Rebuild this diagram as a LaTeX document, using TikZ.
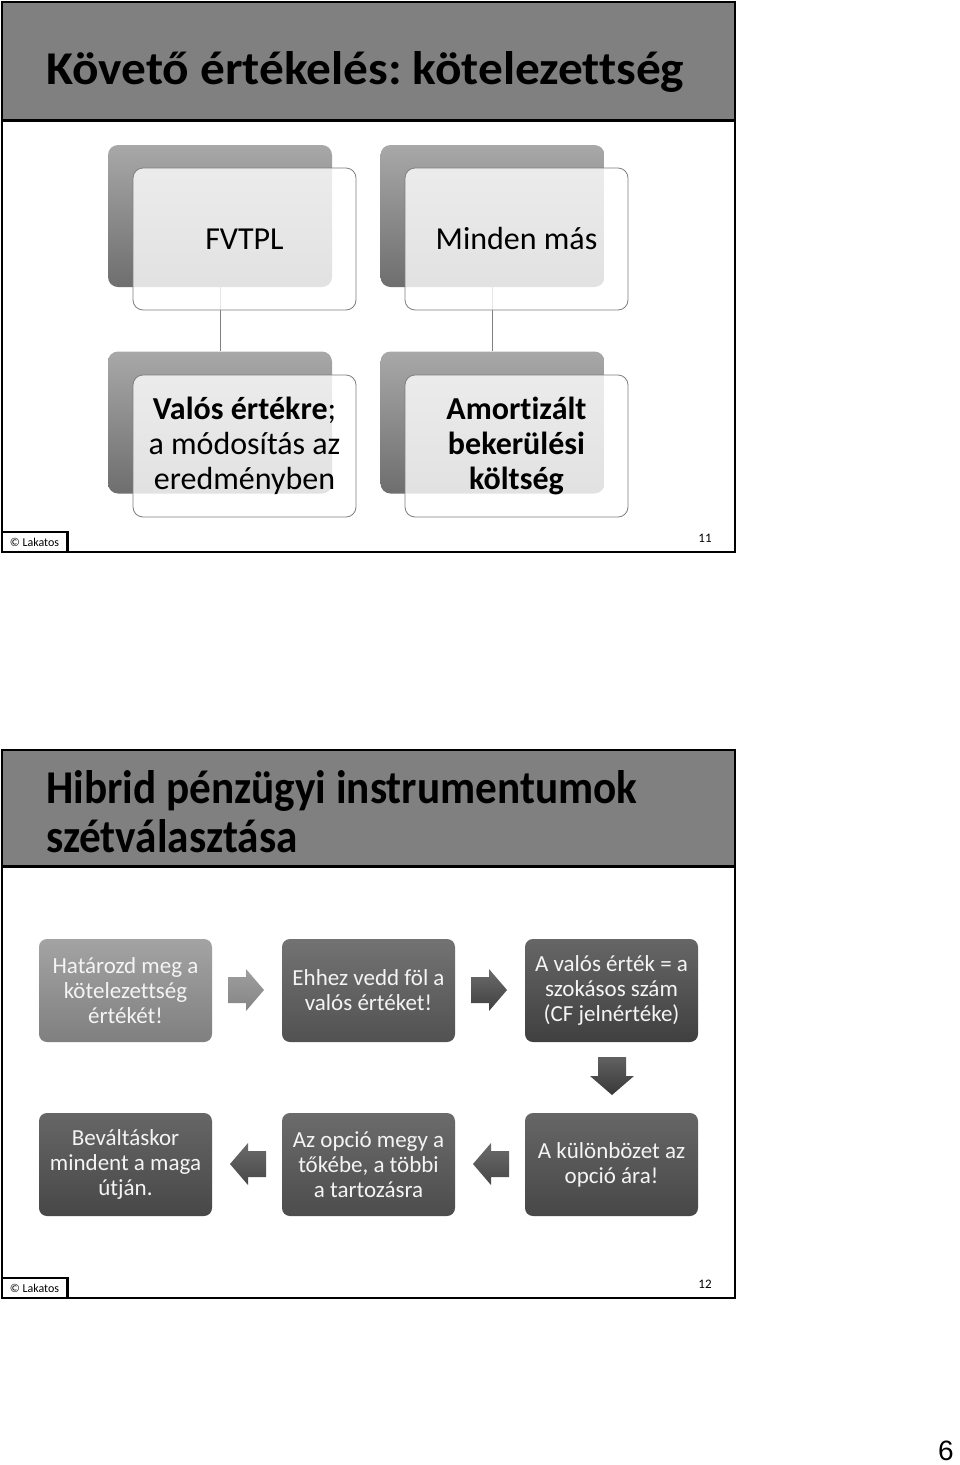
\documentclass[tikz,border=0pt]{standalone}
\usepackage{fontspec}
\setmainfont{Carlito}[Ligatures=NoCommon]
\newfontfamily\arialf{Liberation Sans}
\frenchspacing
\definecolor{titlegray}{HTML}{808080}
\definecolor{bbtop}{HTML}{A8A8A8}
\definecolor{bbbot}{HTML}{6E6E6E}
\definecolor{fbline}{HTML}{7F7F7F}
\definecolor{boxtext}{HTML}{F4F4F4}
\newcommand{\myRArrow}[4]{\shade[top color=#3,bottom color=#4] (#1-18,#2-13) -- (#1,#2-13) -- (#1,#2-21) -- (#1+18,#2) -- (#1,#2+21) -- (#1,#2+13) -- (#1-18,#2+13) -- cycle;}
\newcommand{\myLArrow}[4]{\shade[top color=#3,bottom color=#4] (#1+18,#2-13) -- (#1,#2-13) -- (#1,#2-21) -- (#1-18,#2) -- (#1,#2+21) -- (#1,#2+13) -- (#1+18,#2+13) -- cycle;}
\newcommand{\myDArrow}[4]{\shade[top color=#3,bottom color=#4] (#1-14,#2-19) -- (#1+14,#2-19) -- (#1+14,#2) -- (#1+22,#2) -- (#1,#2+19) -- (#1-22,#2) -- (#1-14,#2) -- cycle;}
\begin{document}
\frenchspacing
\begin{tikzpicture}[x=1pt,y=-1pt,
  frame/.style={draw=black,line width=2pt},
  titlebar/.style={fill=titlegray,draw=black,line width=2pt},
  titletext/.style={font=\fontsize{47}{50}\selectfont\bfseries,anchor=base west,inner sep=0pt,align=left},
  backbox/.style={top color=bbtop,bottom color=bbbot,rounded corners=10pt,minimum width=224pt,minimum height=142pt,inner sep=0pt},
  frontbox/.style={fill=white,fill opacity=0.8,text opacity=1,draw=fbline,draw opacity=1,line width=0.8pt,rounded corners=10pt,minimum width=223pt,minimum height=142pt,inner sep=0pt,align=center,font=\fontsize{32}{35}\selectfont},
  link/.style={draw=fbline,line width=0.8pt},
  stepbox/.style={rounded corners=8pt,minimum width=173pt,minimum height=103pt,inner sep=0pt,align=center,text=boxtext,font=\fontsize{23}{25}\selectfont},
  footbox/.style={draw=black,line width=1.6pt,fill=white,minimum width=65pt,minimum height=19pt,inner sep=0pt,font=\fontsize{12}{13}\selectfont},
  pagenum/.style={font=\fontsize{13}{14}\selectfont,inner sep=0pt}]
\useasboundingbox (0,0) rectangle (960,1465);
\fill[white] (0,0) rectangle (960,1465);

% ---------- slide 11 ----------
\draw[frame] (2,2) rectangle (735,552);
\draw[titlebar] (2,2) rectangle (735,120);
\draw[black,line width=3pt] (2,120) -- (735,120);
\node[titletext] (t1) at (46,84) {\scalebox{1.05}[1]{Követő értékelés: kötelezettség}};

\node[backbox] (b1) at (220,216) {};
\node[backbox] (b2) at (492.5,216) {};
\node[backbox] (b3) at (220,422.5) {};
\node[backbox] (b4) at (492.5,422.5) {};
\draw[link] (b1.south) -- (b3.north);
\draw[link] (b2.south) -- (b4.north);
\node[frontbox] (f1) at (244.5,239) {FVTPL};
\node[frontbox] (f2) at (516.5,239) {Minden más};
\node[frontbox] (f3) at (244.5,446) {\textbf{Valós értékre};\\a módosítás az\\eredményben};
\node[frontbox] (f4) at (516.5,446) {\textbf{Amortizált}\\\textbf{bekerülési}\\\textbf{költség}};

\node[footbox] (c1) at (34.5,542) {© Lakatos};
\draw[black,line width=2.4pt] (c1.north west) -- (c1.north east) -- (c1.south east);
\node[pagenum] (p1) at (705,538) {11};

% ---------- slide 12 ----------
\draw[frame] (2,750) rectangle (735,1298);
\draw[titlebar] (2,750) rectangle (735,866);
\draw[black,line width=3pt] (2,866) -- (735,866);
\node[titletext] (t2) at (46,803) {\scalebox{0.92}[1]{Hibrid pénzügyi instrumentumok}};
\node[titletext] (t3) at (46,852) {\scalebox{0.92}[1]{szétválasztása}};

\node[stepbox,top color=black!36,bottom color=black!50] (s1) at (125.5,990.5) {Határozd meg a\\kötelezettség\\értékét!};
\node[stepbox,top color=black!55,bottom color=black!68] (s2) at (368.5,990.5) {Ehhez vedd föl a\\valós értéket!};
\node[stepbox,top color=black!60,bottom color=black!75] (s3) at (611.5,990.5) {A valós érték = a\\szokásos szám\\(CF jelnértéke)};
\node[stepbox,top color=black!60,bottom color=black!72] (s4) at (611.5,1164.5) {A különbözet az\\opció ára!};
\node[stepbox,top color=black!58,bottom color=black!70] (s5) at (368.5,1164.5) {Az opció megy a\\tőkébe, a többi\\a tartozásra};
\node[stepbox,top color=black!60,bottom color=black!72] (s6) at (125.5,1164.5) {Beváltáskor\\mindent a maga\\útján.};

\myRArrow{246}{990}{black!38}{black!48}
\myRArrow{489}{990}{black!58}{black!75}
\myDArrow{612}{1076}{black!62}{black!78}
\myLArrow{491}{1164}{black!58}{black!72}
\myLArrow{248}{1164}{black!58}{black!72}

\node[footbox] (c2) at (34.5,1288) {© Lakatos};
\draw[black,line width=2.4pt] (c2.north west) -- (c2.north east) -- (c2.south east);
\node[pagenum] (p2) at (705,1284) {12};

\node[font=\arialf\fontsize{28}{30}\selectfont,anchor=south east,inner sep=0pt] (pg) at (954,1461) {6};
\end{tikzpicture}
\end{document}
